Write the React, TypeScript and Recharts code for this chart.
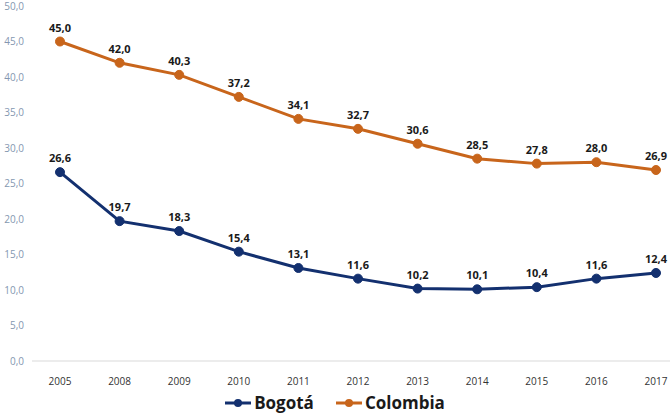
import { LineChart, Line, XAxis, YAxis, Legend, LabelList } from "recharts";

const years = ["2005", "2008", "2009", "2010", "2011", "2012", "2013", "2014", "2015", "2016", "2017"];
const bogota = [26.6, 19.7, 18.3, 15.4, 13.1, 11.6, 10.2, 10.1, 10.4, 11.6, 12.4];
const colombia = [45.0, 42.0, 40.3, 37.2, 34.1, 32.7, 30.6, 28.5, 27.8, 28.0, 26.9];
const yTicks = [0, 5, 10, 15, 20, 25, 30, 35, 40, 45, 50];

const BLUE = "#13306f";
const ORANGE = "#c8651b";
const FONT = "'Open Sans', 'Liberation Sans', sans-serif";

const data = years.map((y, i) => ({ year: y, bogota: bogota[i], colombia: colombia[i] }));

const fmt = (v: number) => v.toFixed(1).replace(".", ",");

export default function App() {
  return (
    <div style={{ position: "absolute", left: 0, top: 0, width: 670, height: 420, overflow: "hidden", background: "#fff", fontFamily: FONT }}>
      <LineChart width={670} height={420} data={data} margin={{ top: 6, right: 0, left: 0, bottom: 4 }}>
        <XAxis
          dataKey="year"
          padding={{ left: 28, right: 14 }}
          tick={{ fontSize: 10, fill: "#333", fontFamily: FONT }}
          tickLine={false}
          axisLine={{ stroke: "#d9d9d9" }}
          tickMargin={11}
          height={30}
        />
        <YAxis
          domain={[0, 50]}
          ticks={yTicks}
          tickFormatter={fmt}
          tick={{ fontSize: 10, fill: "#8497b0", fontFamily: FONT }}
          tickLine={false}
          axisLine={false}
          width={32}
        />
        <Legend
          verticalAlign="bottom"
          height={25}
          iconSize={0}
          content={() => (
            <div style={{ display: "flex", justifyContent: "center", gap: 22, fontFamily: FONT, fontWeight: 700, fontSize: 17, color: "#1a1a1a" }}>
              {[
                { name: "Bogotá", color: BLUE },
                { name: "Colombia", color: ORANGE },
              ].map((s) => (
                <span key={s.name} style={{ display: "flex", alignItems: "center", gap: 3 }}>
                  <svg width={26} height={12}>
                    <line x1={0} y1={6} x2={26} y2={6} stroke={s.color} strokeWidth={3} />
                    <circle cx={13} cy={6} r={4} fill={s.color} />
                  </svg>
                  {s.name}
                </span>
              ))}
            </div>
          )}
        />
        <Line
          type="linear"
          dataKey="bogota"
          name="Bogotá"
          stroke={BLUE}
          strokeWidth={3}
          dot={{ r: 4.5, fill: BLUE, stroke: BLUE, strokeWidth: 1 }}
          isAnimationActive={false}
        >
          <LabelList dataKey="bogota" position="top" offset={10} formatter={(v: any) => fmt(Number(v))} style={{ fontSize: 11, fontWeight: 700, fill: "#1a1a1a", fontFamily: FONT }} />
        </Line>
        <Line
          type="linear"
          dataKey="colombia"
          name="Colombia"
          stroke={ORANGE}
          strokeWidth={3}
          dot={{ r: 4.5, fill: ORANGE, stroke: ORANGE, strokeWidth: 1 }}
          isAnimationActive={false}
        >
          <LabelList dataKey="colombia" position="top" offset={10} formatter={(v: any) => fmt(Number(v))} style={{ fontSize: 11, fontWeight: 700, fill: "#1a1a1a", fontFamily: FONT }} />
        </Line>
      </LineChart>
    </div>
  );
}
